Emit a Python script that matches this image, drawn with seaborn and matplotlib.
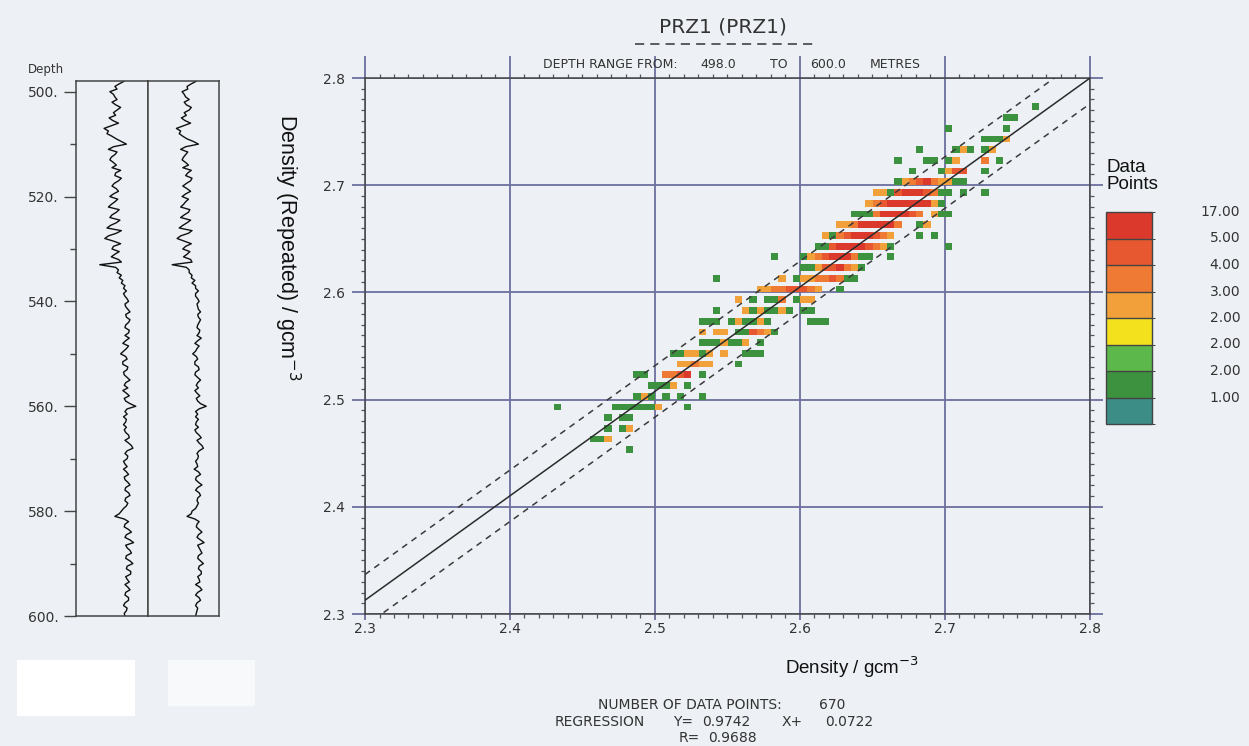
import numpy as np
import pandas as pd
import matplotlib
matplotlib.use("Agg")
import matplotlib.pyplot as plt
from matplotlib.colors import ListedColormap, BoundaryNorm
from matplotlib.patches import Rectangle
from matplotlib.lines import Line2D
import seaborn as sns

# ---------------------------------------------------------------- data
well = "PRZ1"
depth_top, depth_base = 498.0, 600.0
n_points = 670
reg_slope, reg_intercept, reg_r = 0.9742, 0.0722, 0.9688
band_offset = 0.024

# crossplot cells: repeated-density row, first density bin of the row,
# then point counts for consecutive 0.005 g/cc density bins
row_rep = [2.77, 2.76, 2.75, 2.74, 2.73, 2.72, 2.71, 2.70, 2.69, 2.68, 2.67,
           2.66, 2.65, 2.64, 2.63, 2.62, 2.61, 2.60, 2.59, 2.58, 2.57, 2.56,
           2.55, 2.54, 2.53, 2.52, 2.51, 2.50, 2.49, 2.48, 2.47, 2.46, 2.45]
row_start = [2.760, 2.740, 2.700, 2.725, 2.680, 2.665, 2.675, 2.665, 2.650,
             2.645, 2.635, 2.625, 2.615, 2.610, 2.580, 2.600, 2.540, 2.570,
             2.555, 2.540, 2.530, 2.530, 2.530, 2.510, 2.515, 2.485, 2.495,
             2.485, 2.430, 2.465, 2.465, 2.455, 2.480]
row_counts = [
    [1],
    [1, 1],
    [1, 0, 0, 0, 0, 0, 0, 0, 1],
    [1, 1, 1, 2],
    [1, 0, 0, 0, 0, 1, 2, 1, 0, 1, 2],
    [1, 0, 0, 0, 1, 1, 0, 1, 2, 0, 0, 0, 3, 0, 1],
    [1, 0, 0, 0, 1, 2, 4, 4, 0, 0, 1],
    [1, 2, 3, 4, 5, 3, 2, 2, 1, 1],
    [2, 2, 1, 4, 5, 6, 5, 4, 3, 1, 1, 0, 1, 0, 0, 1],
    [2, 3, 4, 5, 5, 6, 8, 6, 5, 2, 1],
    [1, 1, 1, 3, 5, 6, 6, 5, 4, 3, 0, 2, 1, 1],
    [2, 2, 3, 5, 6, 6, 5, 5, 3, 0, 0, 1, 2],
    [2, 1, 3, 4, 6, 6, 5, 4, 3, 2, 0, 0, 0, 1, 0, 1],
    [1, 1, 4, 5, 6, 6, 5, 4, 3, 2, 1, 0, 0, 0, 0, 0, 0, 0, 1],
    [1, 0, 0, 0, 1, 2, 3, 4, 5, 6, 5, 3, 1, 1, 0, 0, 1],
    [1, 1, 2, 4, 4, 5, 3, 2, 1],
    [1, 0, 0, 0, 0, 0, 0, 0, 0, 2, 0, 1, 2, 2, 3, 3, 4, 3, 1, 1],
    [2, 2, 3, 3, 4, 4, 4, 3, 2, 0, 0, 1],
    [2, 0, 1, 0, 1, 1, 3, 0, 1, 2, 2],
    [1, 0, 0, 0, 2, 1, 2, 1, 1, 2, 1, 0, 1, 1],
    [1, 1, 1, 0, 1, 2, 1, 1, 2, 1, 0, 0, 0, 0, 0, 1, 1, 1],
    [2, 0, 2, 2, 0, 1, 1, 4, 3, 2, 1],
    [1, 1, 1, 2, 1, 1, 2, 0, 1],
    [1, 1, 2, 2, 1, 2, 0, 2, 0, 0, 1, 1, 1],
    [2, 2, 3, 2, 2, 0, 0, 0, 1],
    [1, 1, 0, 0, 3, 3, 4, 5, 0, 1],
    [1, 1, 1, 2, 0, 1],
    [1, 2, 1, 0, 1, 0, 1, 0, 0, 1],
    [1, 0, 0, 0, 0, 0, 0, 0, 1, 1, 1, 1, 1, 1, 2, 0, 0, 0, 1],
    [1, 0, 1, 1],
    [1, 0, 1, 2],
    [1, 1, 2],
    [1],
]

# colour classes of the point-count legend (bottom to top)
class_bounds = [0, 1, 1.5, 1.75, 2, 3, 4, 5, 17]
class_labels = ["1.00", "2.00", "2.00", "2.00", "3.00", "4.00", "5.00", "17.00"]
class_colors = ["#3b8d86", "#3d9240", "#5db84b", "#f4e11e",
                "#f2a13a", "#ee7a33", "#e75830", "#dc392d"]

axis_ticks = [2.3, 2.4, 2.5, 2.6, 2.7, 2.8]

# density log and its repeat run: values on whole metres (498-600 m)
# and on the half metres in between (498.5-599.5 m)
log_main = [
    2.62, 2.49, 2.42, 2.49, 2.45, 2.57, 2.47, 2.41, 2.54, 2.34,
    2.38, 2.51, 2.65, 2.40, 2.49, 2.42, 2.51, 2.57, 2.49, 2.54,
    2.45, 2.54, 2.42, 2.49, 2.40, 2.51, 2.42, 2.51, 2.38, 2.51,
    2.35, 2.57, 2.45, 2.49, 2.54, 2.28, 2.54, 2.58, 2.60, 2.63,
    2.65, 2.63, 2.68, 2.64, 2.70, 2.65, 2.68, 2.63, 2.68, 2.69,
    2.60, 2.65, 2.57, 2.66, 2.60, 2.66, 2.62, 2.70, 2.62, 2.60,
    2.69, 2.64, 2.78, 2.63, 2.61, 2.64, 2.65, 2.64, 2.69, 2.68,
    2.74, 2.63, 2.66, 2.63, 2.61, 2.68, 2.63, 2.70, 2.63, 2.70,
    2.63, 2.65, 2.58, 2.49, 2.68, 2.62, 2.72, 2.63, 2.75, 2.66,
    2.72, 2.64, 2.74, 2.65, 2.71, 2.66, 2.63, 2.70, 2.63, 2.68,
    2.61, 2.65, 2.63]
log_main_half = [
    2.55, 2.52, 2.47, 2.52, 2.50, 2.52, 2.50, 2.46, 2.44, 2.40,
    2.45, 2.58, 2.47, 2.52, 2.44, 2.47, 2.45, 2.50, 2.58, 2.48,
    2.51, 2.47, 2.53, 2.44, 2.55, 2.45, 2.56, 2.43, 2.58, 2.40,
    2.47, 2.47, 2.55, 2.44, 2.58, 2.50, 2.52, 2.55, 2.58, 2.61,
    2.61, 2.66, 2.63, 2.67, 2.64, 2.70, 2.64, 2.69, 2.63, 2.64,
    2.68, 2.61, 2.64, 2.60, 2.67, 2.61, 2.66, 2.64, 2.67, 2.65,
    2.62, 2.70, 2.66, 2.66, 2.65, 2.61, 2.62, 2.68, 2.63, 2.72,
    2.66, 2.67, 2.61, 2.66, 2.65, 2.62, 2.67, 2.64, 2.68, 2.64,
    2.67, 2.61, 2.55, 2.62, 2.63, 2.68, 2.65, 2.70, 2.64, 2.70,
    2.65, 2.70, 2.66, 2.71, 2.64, 2.69, 2.67, 2.64, 2.68, 2.63,
    2.66, 2.62]
log_repeat = [
    2.63, 2.50, 2.43, 2.48, 2.46, 2.56, 2.46, 2.42, 2.55, 2.35,
    2.39, 2.50, 2.66, 2.41, 2.48, 2.43, 2.52, 2.56, 2.48, 2.55,
    2.44, 2.55, 2.43, 2.48, 2.41, 2.52, 2.41, 2.50, 2.39, 2.52,
    2.36, 2.56, 2.44, 2.50, 2.55, 2.29, 2.53, 2.57, 2.61, 2.62,
    2.66, 2.62, 2.67, 2.65, 2.69, 2.66, 2.67, 2.64, 2.67, 2.70,
    2.61, 2.64, 2.58, 2.65, 2.61, 2.67, 2.61, 2.69, 2.63, 2.61,
    2.68, 2.65, 2.77, 2.62, 2.62, 2.63, 2.66, 2.63, 2.70, 2.67,
    2.73, 2.64, 2.65, 2.64, 2.60, 2.69, 2.62, 2.71, 2.62, 2.69,
    2.64, 2.64, 2.57, 2.50, 2.67, 2.63, 2.71, 2.64, 2.74, 2.67,
    2.71, 2.65, 2.73, 2.66, 2.70, 2.67, 2.62, 2.71, 2.62, 2.69,
    2.62, 2.64, 2.62]
log_repeat_half = [
    2.56, 2.51, 2.46, 2.53, 2.49, 2.53, 2.49, 2.47, 2.45, 2.41,
    2.44, 2.59, 2.48, 2.51, 2.45, 2.48, 2.44, 2.51, 2.57, 2.49,
    2.50, 2.48, 2.52, 2.45, 2.54, 2.46, 2.55, 2.44, 2.57, 2.41,
    2.46, 2.48, 2.54, 2.45, 2.57, 2.49, 2.53, 2.56, 2.57, 2.62,
    2.62, 2.65, 2.64, 2.66, 2.65, 2.69, 2.65, 2.68, 2.64, 2.65,
    2.67, 2.62, 2.63, 2.61, 2.66, 2.62, 2.65, 2.65, 2.66, 2.64,
    2.63, 2.69, 2.67, 2.65, 2.66, 2.62, 2.61, 2.67, 2.64, 2.71,
    2.67, 2.66, 2.62, 2.65, 2.66, 2.63, 2.66, 2.65, 2.67, 2.65,
    2.66, 2.62, 2.56, 2.61, 2.64, 2.67, 2.66, 2.69, 2.65, 2.69,
    2.66, 2.69, 2.67, 2.70, 2.65, 2.68, 2.68, 2.65, 2.67, 2.64,
    2.65, 2.63]
depth_major = [500, 520, 540, 560, 580, 600]
depth_minor = [510, 530, 550, 570, 590]

# ---------------------------------------------------------------- style
sns.set_style("ticks")
BG = "#edf0f4"
INK = "#333333"
GRID = "#6b6f9d"
plt.rcParams["font.family"] = ["DejaVu Sans"]
SANS = ["Liberation Sans", "DejaVu Sans"]
PX = 0.72  # points per pixel at 100 dpi

W, H = 1249, 746
fig = plt.figure(figsize=(W / 100, H / 100), dpi=100, facecolor=BG)


def fx(px):
    return px / W


def fy(py):
    return 1 - py / H


# ---------------------------------------------------------------- crossplot
ax = fig.add_axes([fx(365), fy(614), (1090 - 365) / W, (614 - 78) / H])
ax.set_facecolor(BG)

xs, ys, ws = [], [], []
BIN = 0.005
for yv, x0, counts in zip(row_rep, row_start, row_counts):
    for i, c in enumerate(counts):
        if c > 0:
            # place each value inside its cell
            xs.append(x0 + i * BIN + BIN / 2)
            ys.append(yv + 0.003)
            ws.append(c)
cells = pd.DataFrame({"density": xs, "density_rep": ys, "count": ws})

# x cells 0.005 wide; each 0.01 row is drawn as a 0.0063 strip with a gap above
x_edges = np.linspace(2.3, 2.8, 101)
row_base = np.round(np.arange(2.30, 2.795, 0.01), 2)
y_edges = np.sort(np.concatenate([row_base, row_base + 0.0063, [2.80]]))

cmap = ListedColormap(class_colors)
norm = BoundaryNorm(class_bounds, ncolors=len(class_colors))
sns.histplot(data=cells, x="density", y="density_rep", weights="count",
             bins=(x_edges, y_edges), cmap=cmap, ax=ax, zorder=2)
mesh = ax.collections[-1]
mesh.set_norm(norm)

# regression line and its band
xl = np.array([2.3, 2.8])
yl = reg_slope * xl + reg_intercept
ax.plot(xl, yl, color="#2b2b2b", lw=1.1, zorder=4)
for off in (band_offset, -band_offset):
    ax.plot(xl, yl + off, color="#3a3a3a", lw=1.1, ls=(0, (4, 3.5)), zorder=4)

ax.set_xlim(2.3, 2.8)
ax.set_ylim(2.3, 2.8)
ax.set_xticks(axis_ticks)
ax.set_yticks(axis_ticks)
ax.set_xticklabels([f"{t:.1f}" for t in axis_ticks])
ax.set_yticklabels([f"{t:.1f}" for t in axis_ticks])
ax.set_xticks(np.arange(2.3, 2.8001, 0.01), minor=True)
ax.set_yticks(np.arange(2.3, 2.8001, 0.01), minor=True)
ax.grid(True, which="major", color=GRID, lw=1.3, zorder=1)
ax.set_axisbelow(True)
ax.tick_params(axis="y", which="major", direction="out", length=13 * PX,
               width=1.3, color=GRID, labelsize=10, labelcolor=INK,
               pad=7 * PX, left=True, right=True)
ax.tick_params(axis="x", which="major", direction="out", length=6 * PX,
               width=1.3, color=GRID, labelsize=10, labelcolor=INK,
               pad=2 * PX, bottom=True, top=False)
ax.tick_params(which="minor", direction="out", length=4 * PX, width=0.9,
               color="#555555", top=True, right=True, bottom=True, left=True)
# major verticals run up through the header row
sec = ax.secondary_xaxis("top")
sec.set_xticks(axis_ticks)
sec.set_xticklabels([])
sec.tick_params(direction="out", length=22 * PX, width=1.3, color=GRID)
sec.spines["top"].set_visible(False)
for s in ax.spines.values():
    s.set_color("#444444")
    s.set_linewidth(1.1)
ax.set_xlabel("")
ax.set_ylabel("")

fig.text(fx(852), fy(667), "Density / gcm$^{-3}$", family=SANS, fontsize=13.5,
         color="#111111", ha="center", va="center")
fig.text(fx(287), fy(247), "Density (Repeated) / gcm$^{-3}$", family=SANS,
         fontsize=15.5, color="#111111", ha="center", va="center", rotation=270)

# ---------------------------------------------------------------- legend bar
cax = fig.add_axes([fx(1106), fy(424), 46 / W, 212 / H])
cb = fig.colorbar(mesh, cax=cax, drawedges=True)
cb.outline.set_edgecolor("#444444")
cb.outline.set_linewidth(1.0)
cb.dividers.set_color("#444444")
cb.dividers.set_linewidth(1.0)
cax.set_yticks([])
cax.tick_params(length=0)
n = len(class_labels)
for i, lab in enumerate(class_labels):
    cax.text(2.92, (i + 1) / n, lab, transform=cax.transAxes, ha="right",
             va="center", fontsize=10, color=INK)
fig.text(fx(1106), fy(159), "Data\nPoints", family=SANS, fontsize=13.5,
         color="#111111", ha="left", va="top", linespacing=1.0)

# ---------------------------------------------------------------- log tracks
log_depth = np.arange(498.0, 600.01, 0.5)
main_vals = np.empty(log_depth.size)
main_vals[0::2], main_vals[1::2] = log_main, log_main_half
rep_vals = np.empty(log_depth.size)
rep_vals[0::2], rep_vals[1::2] = log_repeat, log_repeat_half
logs = pd.DataFrame({"depth": log_depth, "main": main_vals, "repeat": rep_vals})

lh = (616 - 81.2) / H
ax_l1 = fig.add_axes([fx(76), fy(616), (148 - 76) / W, lh])
ax_l2 = fig.add_axes([fx(148), fy(616), (219 - 148) / W, lh], sharey=ax_l1)
for a, col in ((ax_l1, "main"), (ax_l2, "repeat")):
    a.set_facecolor(BG)
    sns.lineplot(data=logs, x=col, y="depth", orient="y", estimator=None,
                 sort=False, color="#111111", lw=1.0, ax=a)
    a.set_xlim(1.95, 2.95)
    a.set_xticks([])
    a.set_xlabel("")
    a.set_ylabel("")
    for s in a.spines.values():
        s.set_color("#444444")
        s.set_linewidth(1.1)
ax_l1.set_ylim(depth_base, depth_top)
ax_l1.set_yticks(depth_major)
ax_l1.set_yticklabels([f"{d}." for d in depth_major])
ax_l1.set_yticks(depth_minor, minor=True)
ax_l1.tick_params(axis="y", which="major", direction="out", length=12 * PX,
                  width=1.0, color="#444444", labelsize=10, labelcolor=INK,
                  pad=5 * PX)
ax_l1.tick_params(axis="y", which="minor", direction="out", length=6 * PX,
                  width=1.0, color="#444444")
ax_l2.tick_params(axis="y", which="both", left=False, labelleft=False)
fig.text(fx(28), fy(70), "Depth", fontsize=8.5, color=INK, ha="left", va="center")

# blank label boxes under the tracks
fig.add_artist(Rectangle((fx(17), fy(716)), (135 - 17) / W, (716 - 660) / H,
                         transform=fig.transFigure, facecolor="white",
                         edgecolor="none"))
fig.add_artist(Rectangle((fx(168), fy(706)), (255 - 168) / W, (706 - 660) / H,
                         transform=fig.transFigure, facecolor="#f8f9fb",
                         edgecolor="none"))

# ---------------------------------------------------------------- header
fig.text(fx(723), fy(27), f"{well} ({well})", fontsize=14.5, color=INK,
         ha="center", va="center")
fig.add_artist(Line2D([fx(635), fx(818)], [fy(44), fy(44)],
                      transform=fig.transFigure, color=INK, lw=1.1,
                      ls=(0, (6, 4))))
hdr = 9
fig.text(fx(543), fy(64), "DEPTH RANGE FROM:", fontsize=hdr, color=INK, va="center")
fig.text(fx(700), fy(64), f"{depth_top:.1f}", fontsize=hdr, color=INK, va="center")
fig.text(fx(770), fy(64), "TO", fontsize=hdr, color=INK, va="center")
fig.text(fx(810), fy(64), f"{depth_base:.1f}", fontsize=hdr, color=INK, va="center")
fig.text(fx(870), fy(64), "METRES", fontsize=hdr, color=INK, va="center")

# ---------------------------------------------------------------- statistics
st = 10
fig.text(fx(598), fy(705), "NUMBER OF DATA POINTS:", fontsize=st, color=INK, va="center")
fig.text(fx(819), fy(705), f"{n_points}", fontsize=st, color=INK, va="center")
fig.text(fx(555), fy(722), "REGRESSION", fontsize=st, color=INK, va="center")
fig.text(fx(673), fy(722), "Y=", fontsize=st, color=INK, va="center")
fig.text(fx(702), fy(722), f"{reg_slope:.4f}", fontsize=st, color=INK, va="center")
fig.text(fx(782), fy(722), "X+", fontsize=st, color=INK, va="center")
fig.text(fx(825), fy(722), f"{reg_intercept:.4f}", fontsize=st, color=INK, va="center")
fig.text(fx(679), fy(738), "R=", fontsize=st, color=INK, va="center")
fig.text(fx(708), fy(738), f"{reg_r:.4f}", fontsize=st, color=INK, va="center")

fig.savefig("out.png", dpi=100, facecolor=BG)
